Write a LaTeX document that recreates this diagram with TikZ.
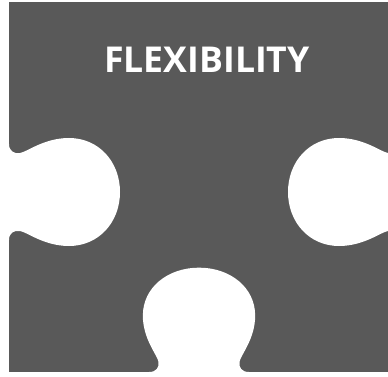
\documentclass[tikz,border=0pt]{standalone}
\usepackage{fontspec}
\setmainfont{Open Sans}
\usepackage{tikz}
\definecolor{pieceGrey}{RGB}{89,89,89}
\tikzset{piece/.style={fill=pieceGrey}, hole/.style={fill=white}}
\newcommand{\knobhole}{%
  \fill[hole] (-48,-5) -- (-48,0) .. controls (-41,0) and (-38,5) .. (-39,11)
    .. controls (-40,18) and (-54,35) .. (-54,60)
    .. controls (-54,90) and (-30,111) .. (0,111)
    .. controls (30,111) and (54,90) .. (54,60)
    .. controls (54,35) and (40,18) .. (39,11)
    .. controls (38,5) and (41,0) .. (48,0) -- (48,-5) -- cycle;}

\begin{document}
\begin{tikzpicture}[x=1pt,y=-1pt]
\useasboundingbox (0,0) rectangle (388,377);
\clip (0,0) rectangle (388,377);
%
\fill[piece] (9,2.5) rectangle (399,372);
%
\begin{scope}[shift={(9,192)}, x={(0pt,-1pt)}, y={(1pt,0pt)}]
\knobhole
\end{scope}
\begin{scope}[shift={(399,192)}, x={(0pt,-1pt)}, y={(-1pt,0pt)}]
\knobhole
\end{scope}
\begin{scope}[shift={(199,372)}, x={(1.04pt,0pt)}, y={(0pt,0.94pt)}]
\knobhole
\end{scope}
%
\node[anchor=base, text=white, font=\bfseries\fontsize{35.6}{40}\selectfont] (title) at (207,72.7) {FLEXIBILITY};
\end{tikzpicture}
\end{document}
